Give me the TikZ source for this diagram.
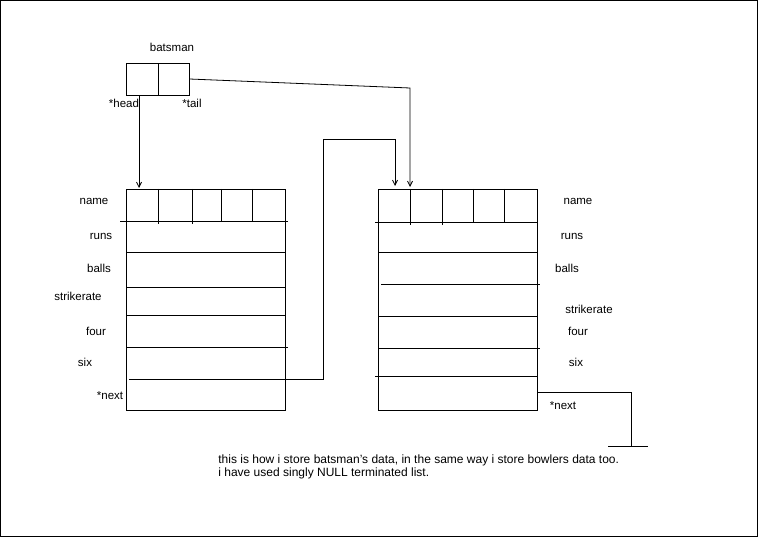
\documentclass[tikz,border=0pt]{standalone}
\usepackage{fontspec}
\setmainfont{Liberation Sans}
\usetikzlibrary{arrows.meta}
\begin{document}
\begin{tikzpicture}[x=1pt,y=-1pt,line width=0.8pt,
  arr/.style={-{Straight Barb[length=5pt,width=5pt]}},
  lbl/.style={font=\fontsize{11.5}{13}\selectfont,inner sep=0pt},
  notetext/.style={font=\fontsize{12}{13}\selectfont,inner sep=0pt,anchor=north west,align=left},
  cell/.style={draw,minimum width=32pt,minimum height=32pt,inner sep=0pt},
  struct/.style={draw,minimum width=159pt,minimum height=221pt,inner sep=0pt}]
\useasboundingbox (0,0) rectangle (758,537);
\draw[line width=1pt] (0.5,0.5) rectangle (757.5,536.5);
% top box
\node[cell,minimum width=32pt] (head) at (142,79) {};
\node[cell,minimum width=31pt] (tail) at (173.5,79) {};
\node[lbl] (tb) at (172,47) {batsman};
\node[lbl] (th) at (124,103) {*head};
\node[lbl] (tt) at (192,103) {*tail};
% structs
\node[struct] (L) at (205.5,299.5) {};
\node[struct] (R) at (457.5,299.5) {};
% left struct inner lines
\draw (120,221) -- (288,221);
\draw (158,189) -- (158,224) (192,189) -- (192,224) (221,189) -- (221,221) (252,189) -- (252,221);
\draw (126,252) -- (285,252) (126,287) -- (285,287) (126,315) -- (285,315) (126,347) -- (288,347);
% right struct inner lines
\draw (375,222) -- (537,222);
\draw (410,189) -- (410,225) (442,189) -- (442,225) (473,189) -- (473,222) (504,189) -- (504,222);
\draw (378,252) -- (537,252) (381,284) -- (540,284) (378,316) -- (537,316) (379,348) -- (540,348) (375,376) -- (537,376);
% labels left
\node[lbl] (ln) at (94,201) {name};
\node[lbl] (lr) at (101,236) {runs};
\node[lbl] (lb) at (99,268) {balls};
\node[lbl] (ls) at (78,296) {strikerate};
\node[lbl] (lf) at (96,331) {four};
\node[lbl] (lx) at (85,362) {six};
\node[lbl] (lp) at (110,396) {*next};
% labels right
\node[lbl] (rn) at (578,201) {name};
\node[lbl] (rr) at (572,236) {runs};
\node[lbl] (rb) at (567,268) {balls};
\node[lbl] (rs) at (589,309) {strikerate};
\node[lbl] (rf) at (578,331) {four};
\node[lbl] (rx) at (576,362) {six};
\node[lbl] (rp) at (563,406) {*next};
% connectors
\coordinate (hin) at (139,188);
\draw[arr] (hin |- head.south) -- (hin);
\coordinate (tin) at (410,187);
\draw[arr] (tail.east) -- (410,88) -- (tin);
\coordinate (ls0) at (129,379);
\coordinate (nin) at (395,186);
\draw[arr] (ls0) -- (323,379) -- (323,139) -- (395,139) -- (nin);
\coordinate (gnd) at (631,446);
\draw (R.east |- 0,392) -- (631,392) -- (gnd);
\draw (608,446) -- (648,446);
% note
\node[notetext] (note) at (218,454)
 {this is how i store batsman's data, in the same way i store bowlers data too.\\
  i have used singly NULL terminated list.};
\end{tikzpicture}
\end{document}
